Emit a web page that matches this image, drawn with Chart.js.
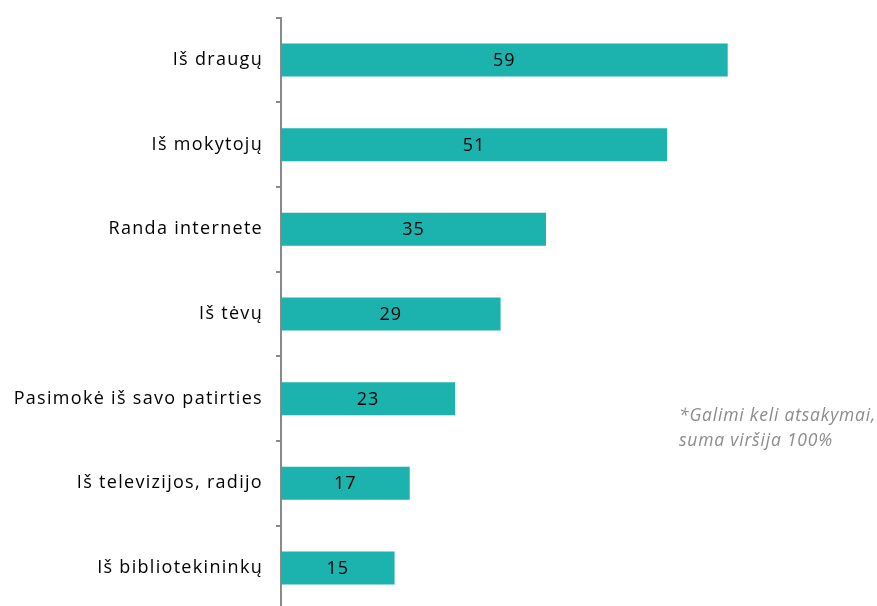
<!DOCTYPE html>
<html><head><meta charset="utf-8">
<script src="https://cdn.jsdelivr.net/npm/chart.js@4"></script>
<style>
html,body{margin:0;padding:0;background:#fff;overflow:hidden;width:877px;height:606px;}
#wrap{position:relative;width:877px;height:606px;overflow:hidden;}
#c{position:absolute;left:0;top:-6px;}
#note{position:absolute;left:679px;top:402px;font-family:"Open Sans",sans-serif;font-style:italic;font-size:17.5px;letter-spacing:0.8px;line-height:25px;color:#8c8c8c;white-space:nowrap;}
</style></head>
<body>
<div id="wrap"><canvas id="c" width="877" height="640"></canvas>
<div id="note">*Galimi keli atsakymai,<br>suma viršija 100%</div></div>
<script>
const categories = ["Iš draugų","Iš mokytojų","Randa internete","Iš tėvų","Pasimokė iš savo patirties","Iš televizijos, radijo","Iš bibliotekininkų"];
const values = [59,51,35,29,23,17,15];

const spacing = {
  id:'spacing',
  beforeDraw(chart){ chart.ctx.letterSpacing='1.3px'; }
};
const valueLabels = {
  id:'valueLabels',
  afterDatasetsDraw(chart){
    const ctx=chart.ctx;
    const meta=chart.getDatasetMeta(0);
    ctx.save();
    ctx.letterSpacing='1px';
    ctx.font='18px "Open Sans", sans-serif';
    ctx.fillStyle='#000';
    ctx.textAlign='center';ctx.textBaseline='middle';
    meta.data.forEach((bar,i)=>{
      const x=(bar.x+bar.base)/2;
      ctx.fillText(String(values[i]),x,bar.y+1);
    });
    ctx.restore();
  }
};

new Chart(document.getElementById('c'),{
  type:'bar',
  data:{labels:categories,datasets:[{data:values,backgroundColor:'#1cb2ad',borderWidth:0,barPercentage:0.78,categoryPercentage:0.5}]},
  options:{
    indexAxis:'y',responsive:false,animation:false,
    layout:{padding:{top:10,right:66,bottom:0,left:0}},
    plugins:{legend:{display:false},tooltip:{enabled:false}},
    scales:{
      x:{display:false,min:0,max:70},
      y:{
        afterFit(s){s.width=281;},
        border:{display:true,color:'#8a8a8a',width:2},
        grid:{display:true,drawOnChartArea:false,drawTicks:true,tickLength:5,color:'#8a8a8a',lineWidth:2,offset:true},
        ticks:{color:'#000',padding:13,font:{family:'"Open Sans", sans-serif',size:18}}
      }
    }
  },
  plugins:[spacing,valueLabels]
});
</script>
</body></html>
